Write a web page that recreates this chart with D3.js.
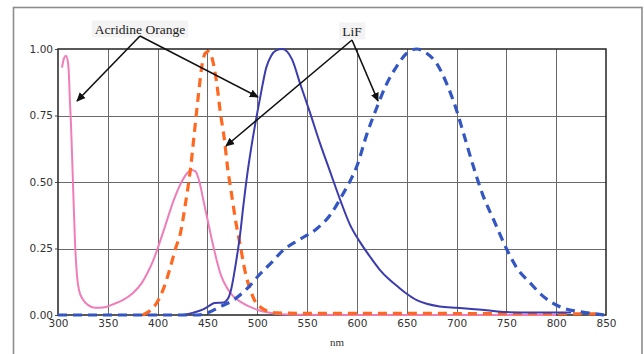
<!DOCTYPE html>
<html>
<head>
<meta charset="utf-8">
<script src="https://cdn.jsdelivr.net/npm/d3@7"></script>
<style>
  html, body { margin: 0; padding: 0; background: #fff; }
  svg { display: block; }
</style>
</head>
<body>
<svg id="chart" width="644" height="354"></svg>
<script>
// Wavelength ticks (nm) and normalised intensity ticks
const xTicks = [300, 350, 400, 450, 500, 550, 600, 650, 700, 750, 800, 850];
const yTicks = [0, 0.25, 0.5, 0.75, 1.0];

// Acridine Orange, absorption (solid pink) — [nm, value]
const acridineAbs = [
  [304, 0.93], [306, 0.965], [308, 0.975], [310, 0.95], [311, 0.90], [312, 0.80],
  [313, 0.72], [315, 0.50], [317, 0.28], [319, 0.15], [321, 0.095], [325, 0.058],
  [330, 0.038], [337, 0.027], [345, 0.028], [355, 0.04], [365, 0.056], [375, 0.082],
  [384, 0.12], [390, 0.16], [395, 0.20], [400, 0.25], [408, 0.34], [416, 0.43],
  [424, 0.50], [430, 0.535], [434, 0.545], [438, 0.54], [442, 0.50], [446, 0.43],
  [450, 0.36], [454, 0.29], [459, 0.21], [464, 0.145], [470, 0.10], [476, 0.07],
  [483, 0.05], [490, 0.035], [500, 0.02], [510, 0.01], [520, 0.004], [540, 0.001],
  [600, 0], [700, 0], [800, 0]
];

// Acridine Orange, emission (dashed orange)
const acridineEm = [
  [385, 0], [392, 0.015], [399, 0.045], [406, 0.10], [412, 0.17], [418, 0.25],
  [423, 0.31], [428, 0.42], [433, 0.55], [437, 0.69], [441, 0.83], [445, 0.95],
  [448, 0.985], [451, 0.99], [455, 0.96], [459, 0.88], [463, 0.76], [467, 0.66],
  [470, 0.56], [474, 0.46], [478, 0.36], [483, 0.26], [488, 0.16], [493, 0.095],
  [498, 0.05], [503, 0.03], [510, 0.015], [520, 0.008], [550, 0.006], [650, 0.006],
  [750, 0.005], [840, 0.004]
];

// LiF, absorption (solid dark blue)
const lifAbs = [
  [425, 0], [435, 0.008], [445, 0.02], [452, 0.035], [457, 0.045], [466, 0.047],
  [471, 0.065], [474, 0.10], [477, 0.16], [480, 0.23], [483, 0.31], [486, 0.41],
  [490, 0.53], [494, 0.63], [499, 0.74], [504, 0.84], [509, 0.93], [514, 0.975],
  [519, 0.995], [525, 1.0], [530, 0.99], [535, 0.96], [543, 0.87], [553, 0.76],
  [563, 0.645], [573, 0.54], [583, 0.435], [593, 0.34], [603, 0.275], [613, 0.22],
  [623, 0.17], [632, 0.135], [640, 0.11], [650, 0.08], [660, 0.056], [670, 0.042],
  [683, 0.032], [700, 0.027], [715, 0.023], [730, 0.018], [750, 0.011], [780, 0.009],
  [815, 0.009]
];

// LiF, emission (dashed blue)
const lifEm = [
  [300, 0], [380, 0], [440, 0], [450, 0.008], [462, 0.03], [476, 0.056], [490, 0.10],
  [503, 0.155], [515, 0.20], [525, 0.24], [543, 0.285], [560, 0.325], [573, 0.375],
  [586, 0.455], [594, 0.51], [600, 0.56], [610, 0.68], [620, 0.78], [630, 0.87],
  [640, 0.935], [650, 0.984], [660, 1.0], [670, 0.984], [680, 0.946], [690, 0.871],
  [700, 0.77], [707, 0.683], [717, 0.557], [727, 0.445], [737, 0.36], [750, 0.25],
  [760, 0.18], [774, 0.12], [787, 0.07], [797, 0.044], [808, 0.025], [825, 0.012],
  [848, 0]
];

const svg = d3.select("#chart");
const plot = { left: 58, right: 606, top: 49, bottom: 315 };

const x = d3.scaleLinear().domain([300, 850]).range([plot.left, plot.right]);
const y = d3.scaleLinear().domain([0, 1]).range([plot.bottom, plot.top]);

// outer frame
svg.append("rect")
  .attr("x", 13.5).attr("y", 7.5)
  .attr("width", 628.5).attr("height", 360)
  .attr("fill", "#fff")
  .attr("stroke", "#8c8c8c").attr("stroke-width", 1.6);

// grid
const grid = svg.append("g").attr("stroke", "#6a6a6a").attr("stroke-width", 1);
grid.selectAll("line.v").data(xTicks.slice(1, -1)).join("line")
  .attr("x1", d => Math.round(x(d)) + 0.5).attr("x2", d => Math.round(x(d)) + 0.5)
  .attr("y1", plot.top).attr("y2", plot.bottom);
grid.selectAll("line.h").data(yTicks.slice(1, -1)).join("line")
  .attr("y1", d => Math.round(y(d)) + 0.5).attr("y2", d => Math.round(y(d)) + 0.5)
  .attr("x1", plot.left).attr("x2", plot.right);

// plot border
svg.append("rect")
  .attr("x", plot.left).attr("y", plot.top)
  .attr("width", plot.right - plot.left).attr("height", plot.bottom - plot.top)
  .attr("fill", "none").attr("stroke", "#222").attr("stroke-width", 1.5);

// axes
const tickFont = "'DejaVu Sans', Verdana, sans-serif";
const yAxis = svg.append("g")
  .attr("transform", `translate(${plot.left},0)`)
  .call(d3.axisLeft(y).tickValues(yTicks).tickFormat(d3.format(".2f")).tickSize(3).tickPadding(2));
const xAxis = svg.append("g")
  .attr("transform", `translate(0,${plot.bottom})`)
  .call(d3.axisBottom(x).tickValues(xTicks).tickFormat(d3.format("d")).tickSize(0).tickPadding(5));
[yAxis, xAxis].forEach(g => {
  g.select(".domain").remove();
  g.selectAll(".tick line").attr("stroke", "#444");
  g.selectAll("text").attr("font-family", tickFont).attr("font-size", 10.5).attr("fill", "#333");
});

svg.append("text")
  .attr("x", 337).attr("y", 346)
  .attr("text-anchor", "middle")
  .attr("font-family", "'Liberation Serif', 'Times New Roman', serif")
  .attr("font-size", 11).attr("fill", "#333")
  .text("nm");

// spectra
const line = d3.line().x(d => x(d[0])).y(d => y(d[1])).curve(d3.curveMonotoneX);
const series = [
  { data: acridineAbs, color: "#f07db8", width: 2, dash: null },
  { data: acridineEm, color: "#ff6820", width: 3.2, dash: "9,6" },
  { data: lifAbs, color: "#3c3cae", width: 2, dash: null },
  { data: lifEm, color: "#3456c2", width: 3.2, dash: "9,6" }
];
svg.append("g").selectAll("path").data(series).join("path")
  .attr("d", d => line(d.data))
  .attr("fill", "none")
  .attr("stroke", d => d.color)
  .attr("stroke-width", d => d.width)
  .attr("stroke-dasharray", d => d.dash)
  .attr("stroke-linejoin", "round");

// annotations
const defs = svg.append("defs");
defs.append("marker")
  .attr("id", "arrow").attr("viewBox", "0 0 10 10")
  .attr("refX", 9).attr("refY", 5)
  .attr("markerWidth", 9).attr("markerHeight", 9)
  .attr("markerUnits", "userSpaceOnUse")
  .attr("orient", "auto")
  .append("path").attr("d", "M0,0.5 L10,5 L0,9.5 Z").attr("fill", "#111");

const labelFont = "'Liberation Serif', 'Times New Roman', serif";
const notes = [
  { text: "Acridine Orange", cx: 140, cy: 29, from: [140, 36], to: [[77, 101], [258, 97]] },
  { text: "LiF", cx: 352, cy: 31, from: [352, 40], to: [[226, 146], [378, 101]] }
];
const ng = svg.append("g");
notes.forEach(n => {
  const t = ng.append("text")
    .attr("x", n.cx).attr("y", n.cy + 4.5)
    .attr("text-anchor", "middle")
    .attr("font-family", labelFont).attr("font-size", 13.5).attr("fill", "#222")
    .text(n.text);
  const bb = t.node().getBBox();
  ng.insert("rect", "text")
    .attr("x", bb.x - 3).attr("y", bb.y - 1)
    .attr("width", bb.width + 6).attr("height", bb.height + 2)
    .attr("fill", "#f3f3f3");
  n.to.forEach(p => {
    ng.append("line")
      .attr("x1", n.from[0]).attr("y1", n.from[1])
      .attr("x2", p[0]).attr("y2", p[1])
      .attr("stroke", "#111").attr("stroke-width", 1.6)
      .attr("marker-end", "url(#arrow)");
  });
});
</script>
</body>
</html>
